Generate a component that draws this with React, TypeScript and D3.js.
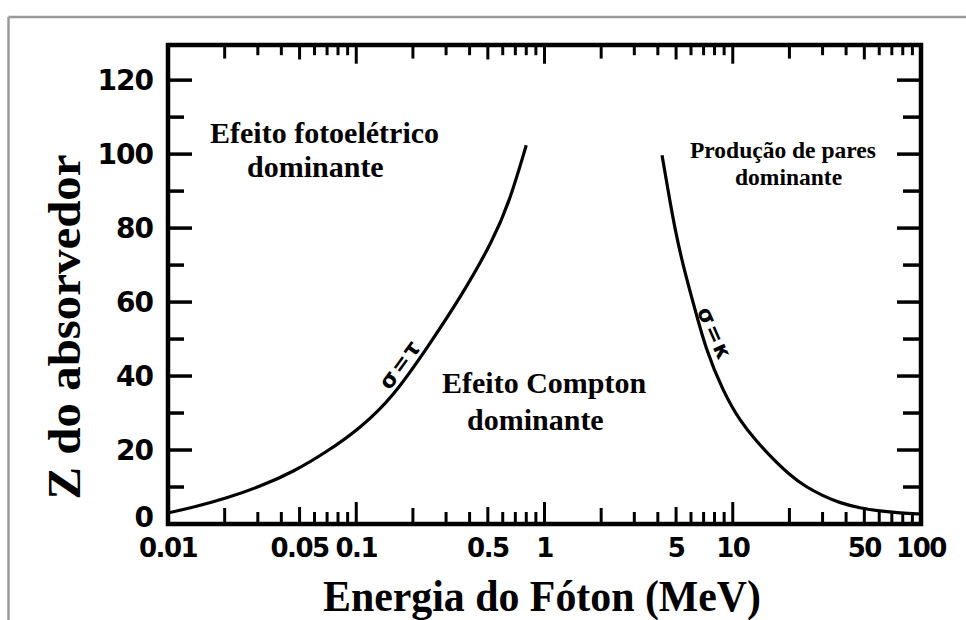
import React from "react";
import * as d3 from "d3";

// Boundary where photoelectric and Compton cross sections are equal (σ = τ)
const photoComptonBoundary: [number, number][] = [
  [0.01, 3.0],
  [0.0136, 4.5],
  [0.0205, 7.0],
  [0.0308, 10.1],
  [0.0463, 14.1],
  [0.0697, 19.5],
  [0.105, 25.9],
  [0.157, 34.4],
  [0.237, 47.5],
  [0.356, 61.0],
  [0.535, 76.8],
  [0.656, 87.6],
  [0.8, 102.4],
];

// Boundary where Compton and pair-production cross sections are equal (σ = κ)
const comptonPairBoundary: [number, number][] = [
  [4.21, 99.7],
  [4.53, 90.3],
  [4.93, 79.7],
  [5.44, 70.0],
  [6.15, 60.0],
  [7.21, 47.0],
  [8.88, 35.9],
  [10.93, 27.8],
  [13.45, 22.2],
  [16.36, 17.6],
  [20.15, 13.2],
  [24.5, 10.0],
  [30.2, 7.6],
  [37.1, 5.7],
  [47.4, 4.3],
  [60.6, 3.5],
  [77.3, 3.0],
  [100, 2.7],
];

const energyTickValues = [0.01, 0.05, 0.1, 0.5, 1, 5, 10, 50, 100];
const energyTickLabels = ["0.01", "0.05", "0.1", "0.5", "1", "5", "10", "50", "100"];
const zTickValues = [0, 20, 40, 60, 80, 100, 120];
const zMinorValues = [10, 30, 50, 70, 90, 110];

const regionLabels = [
  { lines: ["Efeito fotoelétrico", "dominante"], xs: [210, 247], ys: [143, 177], size: 30 },
  { lines: ["Efeito Compton", "dominante"], xs: [442, 467], ys: [393, 430], size: 30 },
  { lines: ["Produção de pares", "dominante"], xs: [690, 735], ys: [158, 185], size: 23.5 },
];

const W = 966;
const H = 620;
const left = 168;
const right = 921;
const top = 45;
const bottom = 524;

export default function App() {
  const x = d3.scaleLog().domain([0.01, 100]).range([left, right]);
  const y = d3.scaleLinear().domain([0, 129.5]).range([bottom, top]);

  const line = d3
    .line<[number, number]>()
    .x((d) => x(d[0]))
    .y((d) => y(d[1]))
    .curve(d3.curveBasis);

  // minor ticks on the log axis: 2..9 within each decade
  const logTicks: { v: number; len: number }[] = [];
  for (let dec = -2; dec < 2; dec++) {
    for (let m = 1; m <= 9; m++) {
      const v = m * Math.pow(10, dec);
      if (m === 1 && dec === -2) continue;
      const len = m === 1 ? 22 : m === 5 ? 17 : m === 2 ? 16 : 12;
      logTicks.push({ v, len });
    }
  }

  const tickFont = "'DejaVu Sans', sans-serif";
  const serif = "'Liberation Serif', 'Times New Roman', serif";

  return (
    <svg
      width={W}
      height={H}
      viewBox={`0 0 ${W} ${H}`}
      style={{ position: "fixed", left: 0, top: 0, background: "#fff" }}
    >
      <rect x={0} y={0} width={W} height={H} fill="#fff" />
      {/* page border */}
      <line x1={8.5} y1={17} x2={W} y2={17} stroke="#9a9a9a" strokeWidth={2.5} />
      <line x1={8.5} y1={17} x2={8.5} y2={H} stroke="#9a9a9a" strokeWidth={2.5} />

      {/* log ticks on bottom (pointing up) and top (pointing down) */}
      {logTicks.map((t, i) => (
        <g key={i} stroke="#000" strokeWidth={3}>
          <line x1={x(t.v)} x2={x(t.v)} y1={bottom} y2={bottom - t.len} />
          <line x1={x(t.v)} x2={x(t.v)} y1={top} y2={top + t.len * 0.85} />
        </g>
      ))}

      {/* Z ticks on left and right */}
      {zTickValues.slice(1).map((v) => (
        <g key={"z" + v} stroke="#000" strokeWidth={3.5}>
          <line x1={left} x2={left + 24} y1={y(v)} y2={y(v)} />
          <line x1={right} x2={right - 24} y1={y(v)} y2={y(v)} />
        </g>
      ))}
      {zMinorValues.map((v) => (
        <g key={"zm" + v} stroke="#000" strokeWidth={3.5}>
          <line x1={left} x2={left + 16} y1={y(v)} y2={y(v)} />
          <line x1={right} x2={right - 18} y1={y(v)} y2={y(v)} />
        </g>
      ))}

      {/* frame */}
      <rect
        x={left}
        y={top}
        width={right - left}
        height={bottom - top}
        fill="none"
        stroke="#000"
        strokeWidth={4.5}
      />

      {/* boundary curves */}
      <path d={line(photoComptonBoundary) || ""} fill="none" stroke="#000" strokeWidth={3.2} />
      <path d={line(comptonPairBoundary) || ""} fill="none" stroke="#000" strokeWidth={3.2} />

      {/* curve labels */}
      <text
        transform="translate(400,364) rotate(-54)"
        textAnchor="middle"
        dominantBaseline="central"
        fontFamily={tickFont}
        fontWeight="bold"
        fontSize={22}
        letterSpacing={2}
      >
        σ=τ
      </text>
      <text
        transform="translate(715,334) rotate(66)"
        textAnchor="middle"
        dominantBaseline="central"
        fontFamily={tickFont}
        fontWeight="bold"
        fontSize={22}
        letterSpacing={2}
      >
        σ=κ
      </text>

      {/* tick labels */}
      {energyTickValues.map((v, i) => (
        <text
          key={"xl" + v}
          x={x(v)}
          y={557}
          textAnchor="middle"
          fontFamily={tickFont}
          fontWeight="bold"
          fontSize={26}
          letterSpacing={-1.5}
        >
          {energyTickLabels[i]}
        </text>
      ))}
      {zTickValues.map((v) => (
        <text
          key={"yl" + v}
          x={153}
          y={y(v) - (v === 0 ? 7 : 0)}
          textAnchor="end"
          dominantBaseline="central"
          fontFamily={tickFont}
          fontWeight="bold"
          fontSize={28}
          letterSpacing={-1}
        >
          {v}
        </text>
      ))}

      {/* region annotations */}
      {regionLabels.map((r, i) =>
        r.lines.map((s, j) => (
          <text
            key={`r${i}-${j}`}
            x={r.xs[j]}
            y={r.ys[j]}
            fontFamily={serif}
            fontWeight="bold"
            fontSize={r.size}
          >
            {s}
          </text>
        ))
      )}

      {/* axis titles */}
      <text
        x={542}
        y={611}
        textAnchor="middle"
        fontFamily={serif}
        fontWeight="bold"
        fontSize={44}
        textLength={438}
        lengthAdjust="spacingAndGlyphs"
      >
        Energia do Fóton (MeV)
      </text>
      <text
        transform="translate(80,327) rotate(-90)"
        textAnchor="middle"
        fontFamily={serif}
        fontWeight="bold"
        fontSize={46}
        textLength={345}
        lengthAdjust="spacingAndGlyphs"
      >
        Z do absorvedor
      </text>
    </svg>
  );
}
